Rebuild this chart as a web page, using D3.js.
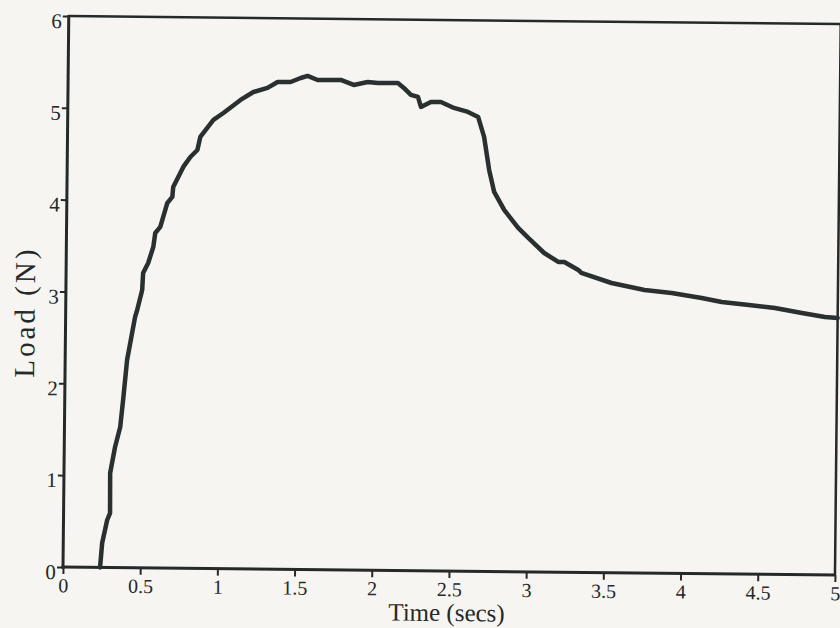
<!DOCTYPE html>
<html>
<head>
<meta charset="utf-8">
<script src="https://cdn.jsdelivr.net/npm/d3@7"></script>
<style>
  html, body { margin: 0; padding: 0; background: #f6f5f1; }
  svg { display: block; }
</style>
</head>
<body>
<svg id="chart" width="840" height="628"></svg>
<script>
// values
const timeSecs = [0.24, 0.252, 0.283, 0.301, 0.299, 0.329, 0.361, 0.378, 0.401, 0.45,
  0.463, 0.494, 0.499, 0.531, 0.563, 0.575, 0.607, 0.651, 0.683, 0.688,
  0.72, 0.752, 0.797, 0.842, 0.86, 0.944, 1.008, 1.118, 1.201, 1.292,
  1.357, 1.441, 1.506, 1.551, 1.616, 1.766, 1.85, 1.941, 2.006, 2.136,
  2.175, 2.221, 2.267, 2.287, 2.351, 2.416, 2.501, 2.592, 2.658, 2.698,
  2.733, 2.767, 2.833, 2.925, 2.991, 3.095, 3.187, 3.226, 3.317, 3.337,
  3.533, 3.747, 3.923, 4.118, 4.248, 4.424, 4.593, 4.768, 4.918, 5.0]
const loadN = [0.0, 0.266, 0.517, 0.593, 1.029, 1.313, 1.531, 1.825, 2.261, 2.731,
  2.807, 3.025, 3.211, 3.32, 3.495, 3.648, 3.714, 3.976, 4.042, 4.151,
  4.26, 4.37, 4.479, 4.556, 4.698, 4.885, 4.962, 5.106, 5.194, 5.24,
  5.306, 5.307, 5.352, 5.375, 5.332, 5.335, 5.282, 5.316, 5.307, 5.309,
  5.255, 5.18, 5.159, 5.05, 5.106, 5.107, 5.043, 5.001, 4.948, 4.731,
  4.372, 4.133, 3.938, 3.744, 3.636, 3.474, 3.378, 3.379, 3.293, 3.261,
  3.155, 3.083, 3.053, 3.002, 2.961, 2.931, 2.902, 2.85, 2.809, 2.8]

const xTicks = [0, 0.5, 1, 1.5, 2, 2.5, 3, 3.5, 4, 4.5, 5]
const yTicks = [0, 1, 2, 3, 4, 5, 6]
const xTickLabels = ['0', '0.5', '1', '1.5', '2', '2.5', '3', '3.5', '4', '4.5', '5']
const yTickLabels = ['0', '1', '2', '3', '4', '5', '6']

const width = 840
const height = 628
const plotLeft = 63
const plotRight = 835
const plotTop = 16
const plotBottom = 567
const ink = '#252929'
const font = '"Liberation Serif", "Times New Roman", serif'

const data = timeSecs.map((t, i) => ({ t, v: loadN[i] }))

const svg = d3.select('#chart')
svg.selectAll('*').remove()

svg.append('rect')
  .attr('width', width)
  .attr('height', height)
  .attr('fill', '#f6f5f1')

// the scan is a little skewed, so the whole figure is turned slightly
const g = svg.append('g')
  .attr('transform', `rotate(0.6, ${plotLeft}, ${plotBottom})`)

const x = d3.scaleLinear().domain([0, 5]).range([plotLeft, plotRight])
const y = d3.scaleLinear().domain([0, 6]).range([plotBottom, plotTop])

// x axis ticks
const xAxis = d3.axisBottom(x)
  .tickValues(xTicks)
  .tickFormat((d, i) => xTickLabels[i])
  .tickSize(7)
  .tickSizeOuter(0)
  .tickPadding(4)

const gx = g.append('g')
  .attr('transform', `translate(0,${plotBottom})`)
  .call(xAxis)
gx.select('.domain').remove()
gx.selectAll('line').attr('stroke', ink).attr('stroke-width', 2)
gx.selectAll('text')
  .attr('fill', ink)
  .style('font-family', font)
  .style('font-size', '20px')

// y axis ticks
const yAxis = d3.axisLeft(y)
  .tickValues(yTicks)
  .tickFormat((d, i) => yTickLabels[i])
  .tickSize(6)
  .tickSizeOuter(0)
  .tickPadding(1)

const gy = g.append('g')
  .attr('transform', `translate(${plotLeft},0)`)
  .call(yAxis)
gy.select('.domain').remove()
gy.selectAll('line').attr('stroke', ink).attr('stroke-width', 2)
gy.selectAll('text')
  .attr('fill', ink)
  .attr('dy', '0.55em')
  .style('font-family', font)
  .style('font-size', '21px')

// frame
g.append('line')
  .attr('x1', plotLeft).attr('x2', plotRight)
  .attr('y1', plotTop).attr('y2', plotTop)
  .attr('stroke', ink).attr('stroke-width', 2.5)
g.append('line')
  .attr('x1', plotRight).attr('x2', plotRight)
  .attr('y1', plotTop).attr('y2', plotBottom)
  .attr('stroke', ink).attr('stroke-width', 2.5)
g.append('line')
  .attr('x1', plotLeft).attr('x2', plotLeft)
  .attr('y1', plotTop - 1).attr('y2', plotBottom + 1.5)
  .attr('stroke', ink).attr('stroke-width', 3)
g.append('line')
  .attr('x1', plotLeft - 1.5).attr('x2', plotRight + 1)
  .attr('y1', plotBottom).attr('y2', plotBottom)
  .attr('stroke', ink).attr('stroke-width', 3)

// load curve
const line = d3.line()
  .x(d => x(d.t))
  .y(d => y(d.v))

g.append('path')
  .datum(data)
  .attr('fill', 'none')
  .attr('stroke', '#2a2f2f')
  .attr('stroke-width', 4.5)
  .attr('stroke-linejoin', 'round')
  .attr('stroke-linecap', 'round')
  .attr('d', line)

// axis titles
g.append('text')
  .attr('x', 447)
  .attr('y', 617)
  .attr('text-anchor', 'middle')
  .attr('fill', ink)
  .style('font-family', font)
  .style('font-size', '25px')
  .text('Time (secs)')

g.append('text')
  .attr('transform', 'rotate(-90)')
  .attr('x', -314)
  .attr('y', 32)
  .attr('text-anchor', 'middle')
  .attr('fill', ink)
  .attr('textLength', 128)
  .attr('lengthAdjust', 'spacing')
  .style('font-family', font)
  .style('font-size', '29px')
  .text('Load (N)')
</script>
</body>
</html>
